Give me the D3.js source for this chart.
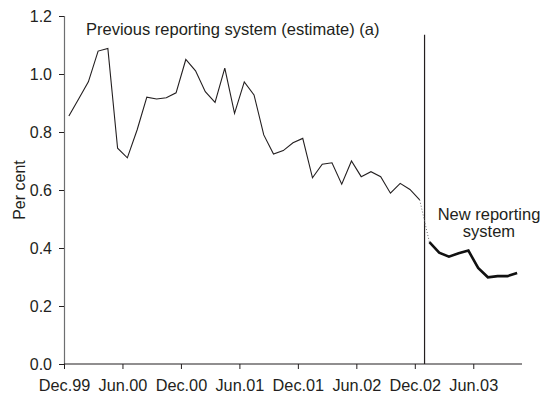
<!DOCTYPE html>
<html>
<head>
<meta charset="utf-8">
<script src="https://cdn.jsdelivr.net/npm/d3@7"></script>
<style>
  html, body { margin: 0; padding: 0; background: #fff; }
  svg { display: block; }
  text { font-family: "Liberation Sans", Arial, Helvetica, sans-serif; fill: #231f20; }
</style>
</head>
<body>
<svg id="chart" width="549" height="397"></svg>
<script>
// Monthly categories, Dec.99 to Oct.03
const months = [
  "Dec.99","Jan.00","Feb.00","Mar.00","Apr.00","May.00","Jun.00","Jul.00","Aug.00","Sep.00","Oct.00","Nov.00",
  "Dec.00","Jan.01","Feb.01","Mar.01","Apr.01","May.01","Jun.01","Jul.01","Aug.01","Sep.01","Oct.01","Nov.01",
  "Dec.01","Jan.02","Feb.02","Mar.02","Apr.02","May.02","Jun.02","Jul.02","Aug.02","Sep.02","Oct.02","Nov.02",
  "Dec.02","Jan.03","Feb.03","Mar.03","Apr.03","May.03","Jun.03","Jul.03","Aug.03","Sep.03","Oct.03"
];

// Previous reporting system (estimate), Dec.99 to Dec.02, per cent
const previousMonths = months.slice(0, 37);
const previousValues = [
  0.855, 0.914, 0.973, 1.079, 1.088, 0.744, 0.711, 0.807, 0.920, 0.914, 0.918, 0.935,
  1.050, 1.011, 0.939, 0.902, 1.020, 0.864, 0.973, 0.928, 0.790, 0.724, 0.736, 0.763,
  0.778, 0.642, 0.689, 0.694, 0.620, 0.700, 0.646, 0.663, 0.646, 0.589, 0.623, 0.602,
  0.566
];

// New reporting system, Jan.03 to Oct.03, per cent
const newMonths = months.slice(37);
const newValues = [0.420, 0.384, 0.370, 0.382, 0.391, 0.331, 0.299, 0.303, 0.303, 0.314];

const xTickLabels = ["Dec.99","Jun.00","Dec.00","Jun.01","Dec.01","Jun.02","Dec.02","Jun.03"];
const yTicks = [0, 0.2, 0.4, 0.6, 0.8, 1.0, 1.2];

const svg = d3.select("#chart");
const margin = { left: 64, right: 27, top: 16, bottom: 33 };
const W = 549, H = 397;
const FONT = "'Liberation Sans', Arial, sans-serif";

const x = d3.scaleBand()
  .domain(months)
  .range([margin.left, W - margin.right])
  .paddingInner(0).paddingOuter(0);
const cx = m => x(m) + x.bandwidth() / 2;

const y = d3.scaleLinear()
  .domain([0, 1.2])
  .range([H - margin.bottom, margin.top]);

// Y axis
const yAxis = svg.append("g")
  .attr("transform", `translate(${margin.left},0)`)
  .call(d3.axisLeft(y).tickValues(yTicks).tickFormat(d3.format(".1f")).tickSize(5).tickPadding(7));
yAxis.select(".domain").attr("stroke", "#6d6e70").attr("stroke-width", 1.2);
yAxis.selectAll(".tick line").attr("stroke", "#231f20");
yAxis.selectAll(".tick text").style("font-size", "16px").attr("fill", "#231f20")
  .style("font-family", FONT);

// X axis: ticks sit on the left edge of each labelled month
const xAxisScale = d3.scalePoint().domain(months).range([x(months[0]), x(months[months.length - 1])]);
const xAxis = svg.append("g")
  .attr("transform", `translate(0,${y(0)})`)
  .call(d3.axisBottom(xAxisScale).tickValues(xTickLabels).tickSize(5).tickPadding(10).tickSizeOuter(0));
xAxis.select(".domain").attr("stroke", "#231f20").attr("stroke-width", 1.2)
  .attr("d", `M${margin.left},0H${W - margin.right}`);
xAxis.selectAll(".tick line").attr("stroke", "#231f20");
xAxis.selectAll(".tick text").style("font-size", "16.3px").attr("fill", "#231f20")
  .style("font-family", FONT);

// Y axis title
svg.append("text")
  .attr("transform", `translate(25,${(y(0) + y(1.2)) / 2}) rotate(-90)`)
  .attr("text-anchor", "middle")
  .style("font-size", "16px")
  .text("Per cent");

// Divider between the two reporting systems
const divX = x("Jan.03");
svg.append("line")
  .attr("x1", divX).attr("x2", divX)
  .attr("y1", y(1.135)).attr("y2", y(0))
  .attr("stroke", "#231f20").attr("stroke-width", 1.2);

const line = d3.line().x(d => cx(d[0])).y(d => y(d[1]));

// Previous system series
svg.append("path")
  .datum(previousMonths.map((m, i) => [m, previousValues[i]]))
  .attr("d", line)
  .attr("fill", "none").attr("stroke", "#231f20").attr("stroke-width", 1.1)
  .attr("stroke-linejoin", "miter");

// Dotted link across the break
svg.append("path")
  .datum([[previousMonths[previousMonths.length - 1], previousValues[previousValues.length - 1]],
          [newMonths[0], newValues[0]]])
  .attr("d", line)
  .attr("fill", "none").attr("stroke", "#6d6e70").attr("stroke-width", 1)
  .attr("stroke-dasharray", "1,2");

// New system series
svg.append("path")
  .datum(newMonths.map((m, i) => [m, newValues[i]]))
  .attr("d", line)
  .attr("fill", "none").attr("stroke", "#111").attr("stroke-width", 2.6)
  .attr("stroke-linejoin", "miter");

// Annotations
svg.append("text")
  .attr("x", 86).attr("y", 35)
  .style("font-size", "16.5px")
  .text("Previous reporting system (estimate) (a)");

const note = svg.append("text")
  .attr("text-anchor", "middle")
  .style("font-size", "16.5px");
note.append("tspan").attr("x", 489).attr("y", 220).text("New reporting");
note.append("tspan").attr("x", 489).attr("y", 237).text("system");
</script>
</body>
</html>
